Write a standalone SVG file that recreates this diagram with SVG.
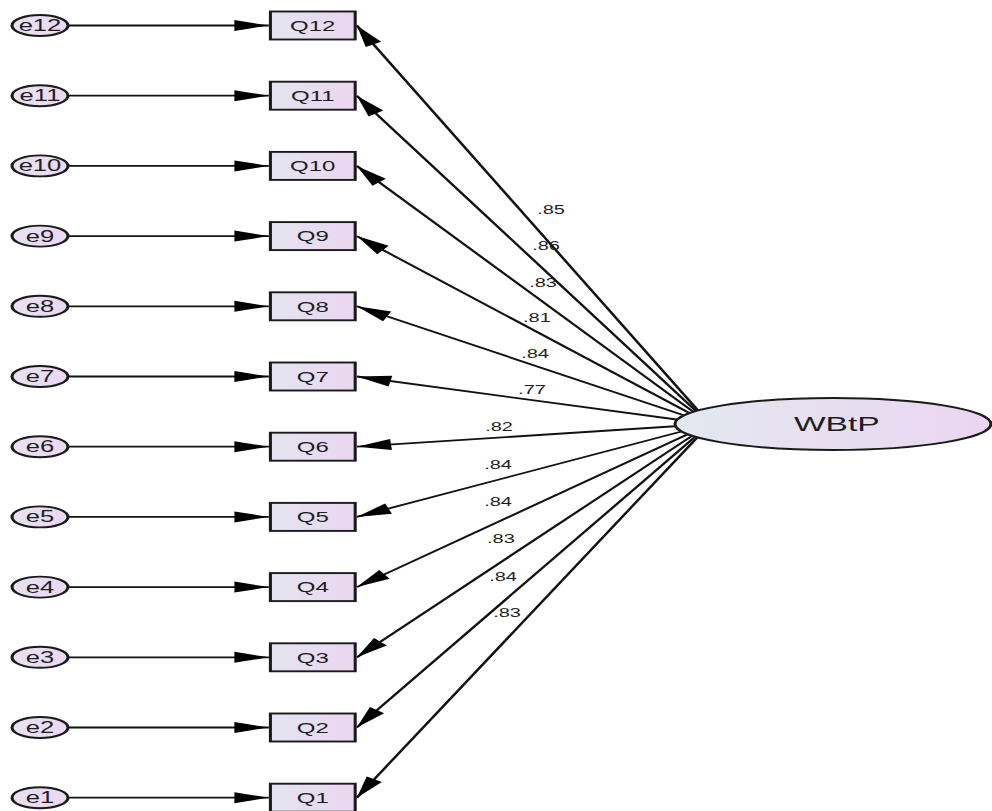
<svg xmlns="http://www.w3.org/2000/svg" width="992" height="811" viewBox="0 0 992 811">
  <style>
    .edge { fill: none; stroke: #111; stroke-width: 1.8; }
    .obs { fill: url(#boxFill); stroke: #1a1a1a; stroke-width: 1.9; }
    .err { fill: url(#errFill); stroke: #1a1a1a; stroke-width: 1.9; }
    .lat { fill: url(#latFill); stroke: #1a1a1a; stroke-width: 1.9; }
    .lbl { font-family: "Liberation Sans", Arial, sans-serif; fill: #1e1e1e; text-anchor: middle; }
    .nodeTxt { font-size: 15px; }
    .errTxt { font-size: 16px; }
    .latTxt { font-size: 21px; }
    .coef { font-size: 12.5px; }
  </style>
  <defs>
    <linearGradient id="boxFill" x1="0" y1="0" x2="1" y2="0">
      <stop offset="0" stop-color="#e3e4f0"/>
      <stop offset="1" stop-color="#ebd6f1"/>
    </linearGradient>
    <linearGradient id="errFill" x1="0" y1="0" x2="1" y2="0">
      <stop offset="0" stop-color="#e6e2f1"/>
      <stop offset="1" stop-color="#ecd7f1"/>
    </linearGradient>
    <linearGradient id="latFill" x1="0" y1="0" x2="1" y2="0">
      <stop offset="0" stop-color="#e3e8ef"/>
      <stop offset="1" stop-color="#ebd5f1"/>
    </linearGradient>
    <marker id="arrow" markerUnits="userSpaceOnUse" markerWidth="26" markerHeight="16" viewBox="-24 -8 26 16" refX="0" refY="0" orient="auto">
      <path d="M0,0 L-21.5,-5.5 L-21.5,5.5 Z" fill="#000"/>
    </marker>
  </defs>
  <rect width="992" height="811" fill="#ffffff"/>

  <!-- the whole model is laid out in a horizontally widened frame -->
  <g transform="scale(1.6 1)">
    <g id="connectors">
      <!-- error terms to indicators -->
      <path class="edge" marker-end="url(#arrow)" d="M42.5,25.5 H168"/>
      <path class="edge" marker-end="url(#arrow)" d="M42.5,95.7 H168"/>
      <path class="edge" marker-end="url(#arrow)" d="M42.5,165.9 H168"/>
      <path class="edge" marker-end="url(#arrow)" d="M42.5,236.1 H168"/>
      <path class="edge" marker-end="url(#arrow)" d="M42.5,306.3 H168"/>
      <path class="edge" marker-end="url(#arrow)" d="M42.5,376.5 H168"/>
      <path class="edge" marker-end="url(#arrow)" d="M42.5,446.7 H168"/>
      <path class="edge" marker-end="url(#arrow)" d="M42.5,516.9 H168"/>
      <path class="edge" marker-end="url(#arrow)" d="M42.5,587.1 H168"/>
      <path class="edge" marker-end="url(#arrow)" d="M42.5,657.3 H168"/>
      <path class="edge" marker-end="url(#arrow)" d="M42.5,727.5 H168"/>
      <path class="edge" marker-end="url(#arrow)" d="M42.5,797.7 H168"/>
      <!-- factor loadings from WBtP -->
      <path class="edge" marker-end="url(#arrow)" d="M443.75,424 L223,25.5"/>
      <path class="edge" marker-end="url(#arrow)" d="M443.75,424 L223,95.7"/>
      <path class="edge" marker-end="url(#arrow)" d="M443.75,424 L223,165.9"/>
      <path class="edge" marker-end="url(#arrow)" d="M443.75,424 L223,236.1"/>
      <path class="edge" marker-end="url(#arrow)" d="M443.75,424 L223,306.3"/>
      <path class="edge" marker-end="url(#arrow)" d="M443.75,424 L223,376.5"/>
      <path class="edge" marker-end="url(#arrow)" d="M443.75,424 L223,446.7"/>
      <path class="edge" marker-end="url(#arrow)" d="M443.75,424 L223,516.9"/>
      <path class="edge" marker-end="url(#arrow)" d="M443.75,424 L223,587.1"/>
      <path class="edge" marker-end="url(#arrow)" d="M443.75,424 L223,657.3"/>
      <path class="edge" marker-end="url(#arrow)" d="M443.75,424 L223,727.5"/>
      <path class="edge" marker-end="url(#arrow)" d="M443.75,424 L223,797.7"/>
      <!-- standardized loadings -->
      <g class="lbl coef">
        <text x="344.4" y="214.5">.85</text>
        <text x="341.3" y="250.5">.86</text>
        <text x="339.4" y="287.5">.83</text>
        <text x="335.6" y="322.5">.81</text>
        <text x="334.4" y="358.5">.84</text>
        <text x="332.5" y="394.5">.77</text>
        <text x="311.9" y="431.5">.82</text>
        <text x="311.3" y="469.5">.84</text>
        <text x="311.3" y="506.5">.84</text>
        <text x="313.1" y="543.5">.83</text>
        <text x="314.4" y="581.5">.84</text>
        <text x="316.9" y="617.5">.83</text>
      </g>
    </g>

    <!-- error terms -->
    <g id="e12"><ellipse class="err" cx="25" cy="25.5" rx="17.5" ry="10.5"/><text class="lbl errTxt" x="25" y="31">e12</text></g>
    <g id="e11"><ellipse class="err" cx="25" cy="95.7" rx="17.5" ry="10.5"/><text class="lbl errTxt" x="25" y="101.2">e11</text></g>
    <g id="e10"><ellipse class="err" cx="25" cy="165.9" rx="17.5" ry="10.5"/><text class="lbl errTxt" x="25" y="171.4">e10</text></g>
    <g id="e9"><ellipse class="err" cx="25" cy="236.1" rx="17.5" ry="10.5"/><text class="lbl errTxt" x="25" y="241.6">e9</text></g>
    <g id="e8"><ellipse class="err" cx="25" cy="306.3" rx="17.5" ry="10.5"/><text class="lbl errTxt" x="25" y="311.8">e8</text></g>
    <g id="e7"><ellipse class="err" cx="25" cy="376.5" rx="17.5" ry="10.5"/><text class="lbl errTxt" x="25" y="382">e7</text></g>
    <g id="e6"><ellipse class="err" cx="25" cy="446.7" rx="17.5" ry="10.5"/><text class="lbl errTxt" x="25" y="452.2">e6</text></g>
    <g id="e5"><ellipse class="err" cx="25" cy="516.9" rx="17.5" ry="10.5"/><text class="lbl errTxt" x="25" y="522.4">e5</text></g>
    <g id="e4"><ellipse class="err" cx="25" cy="587.1" rx="17.5" ry="10.5"/><text class="lbl errTxt" x="25" y="592.6">e4</text></g>
    <g id="e3"><ellipse class="err" cx="25" cy="657.3" rx="17.5" ry="10.5"/><text class="lbl errTxt" x="25" y="662.8">e3</text></g>
    <g id="e2"><ellipse class="err" cx="25" cy="727.5" rx="17.5" ry="10.5"/><text class="lbl errTxt" x="25" y="733">e2</text></g>
    <g id="e1"><ellipse class="err" cx="25" cy="797.7" rx="17.5" ry="10.5"/><text class="lbl errTxt" x="25" y="803.2">e1</text></g>

    <!-- observed indicators -->
    <g id="Q12"><rect class="obs" x="169" y="11.5" width="53" height="28"/><text class="lbl nodeTxt" x="195.5" y="30.8">Q12</text></g>
    <g id="Q11"><rect class="obs" x="169" y="81.7" width="53" height="28"/><text class="lbl nodeTxt" x="195.5" y="101">Q11</text></g>
    <g id="Q10"><rect class="obs" x="169" y="151.9" width="53" height="28"/><text class="lbl nodeTxt" x="195.5" y="171.2">Q10</text></g>
    <g id="Q9"><rect class="obs" x="169" y="222.1" width="53" height="28"/><text class="lbl nodeTxt" x="195.5" y="241.4">Q9</text></g>
    <g id="Q8"><rect class="obs" x="169" y="292.3" width="53" height="28"/><text class="lbl nodeTxt" x="195.5" y="311.6">Q8</text></g>
    <g id="Q7"><rect class="obs" x="169" y="362.5" width="53" height="28"/><text class="lbl nodeTxt" x="195.5" y="381.8">Q7</text></g>
    <g id="Q6"><rect class="obs" x="169" y="432.7" width="53" height="28"/><text class="lbl nodeTxt" x="195.5" y="452">Q6</text></g>
    <g id="Q5"><rect class="obs" x="169" y="502.9" width="53" height="28"/><text class="lbl nodeTxt" x="195.5" y="522.2">Q5</text></g>
    <g id="Q4"><rect class="obs" x="169" y="573.1" width="53" height="28"/><text class="lbl nodeTxt" x="195.5" y="592.4">Q4</text></g>
    <g id="Q3"><rect class="obs" x="169" y="643.3" width="53" height="28"/><text class="lbl nodeTxt" x="195.5" y="662.6">Q3</text></g>
    <g id="Q2"><rect class="obs" x="169" y="713.5" width="53" height="28"/><text class="lbl nodeTxt" x="195.5" y="732.8">Q2</text></g>
    <g id="Q1"><rect class="obs" x="169" y="783.7" width="53" height="28"/><text class="lbl nodeTxt" x="195.5" y="803">Q1</text></g>

    <!-- latent factor -->
    <g id="WBtP">
      <ellipse class="lat" cx="520.6" cy="424" rx="98.75" ry="26"/>
      <text class="lbl latTxt" x="523" y="431.5">WBtP</text>
    </g>
  </g>
</svg>
